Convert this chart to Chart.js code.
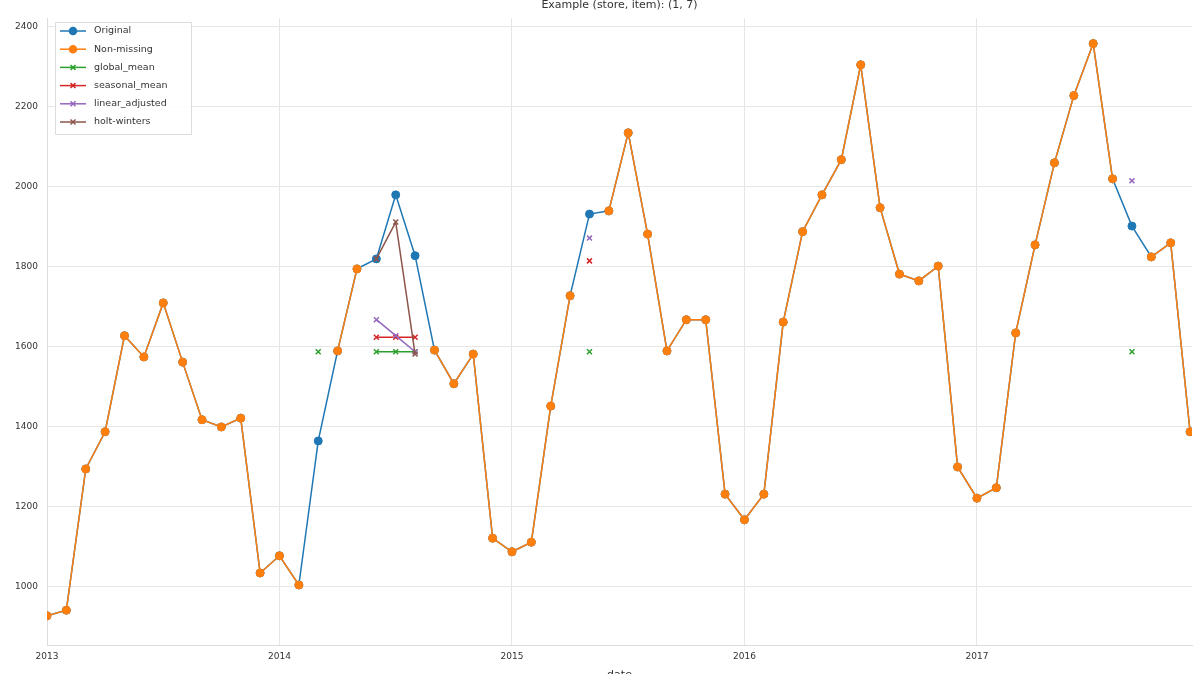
<!DOCTYPE html>
<html>
<head>
<meta charset="utf-8">
<script src="https://cdn.jsdelivr.net/npm/chart.js@4"></script>
<style>
  html, body { margin: 0; padding: 0; background: #fff; }
  #wrap { width: 1200px; height: 674px; position: relative; }
</style>
</head>
<body>
<div id="wrap"><canvas id="chart"></canvas></div>
<script>
// monthly index 0 = 2013-01 ... 59 = 2017-12
var yearTicks = [0, 12, 24, 36, 48];
var yearLabels = ['2013', '2014', '2015', '2016', '2017'];
var yTicks = [1000, 1200, 1400, 1600, 1800, 2000, 2200, 2400];

var original = [
  928, 942, 1295, 1388, 1628, 1575, 1710, 1562, 1418, 1400, 1422, 1035,
  1078, 1005, 1365, 1590, 1795, 1820, 1980, 1828, 1592, 1508, 1582, 1122,
  1088, 1112, 1452, 1728, 1932, 1940, 2135, 1882, 1590, 1668, 1668, 1232,
  1168, 1232, 1662, 1888, 1980, 2068, 2305, 1948, 1782, 1765, 1802, 1300,
  1222, 1248, 1635, 1855, 2060, 2228, 2358, 2020, 1902, 1825, 1860, 1388
];
var nonMissing = [
  928, 942, 1295, 1388, 1628, 1575, 1710, 1562, 1418, 1400, 1422, 1035,
  1078, 1005, null, 1590, 1795, null, null, null, 1592, 1508, 1582, 1122,
  1088, 1112, 1452, 1728, null, 1940, 2135, 1882, 1590, 1668, 1668, 1232,
  1168, 1232, 1662, 1888, 1980, 2068, 2305, 1948, 1782, 1765, 1802, 1300,
  1222, 1248, 1635, 1855, 2060, 2228, 2358, 2020, null, 1825, 1860, 1388
];
// imputed values, only at missing months
var globalMean =     { 14: 1588, 17: 1588, 18: 1588, 19: 1588, 28: 1588, 56: 1588 };
var seasonalMean =   { 17: 1624, 18: 1624, 19: 1624, 28: 1815 };
var linearAdjusted = { 17: 1668, 18: 1628, 19: 1588, 28: 1872, 56: 2015 };
var holtWinters =    { 17: 1820, 18: 1912, 19: 1582 };

function toPoints(arr) {
  return arr.map(function(v, i) { return { x: i, y: v }; });
}
function sparsePoints(obj) {
  var pts = [];
  for (var i = 0; i < original.length; i++) {
    pts.push({ x: i, y: obj[i] !== undefined ? obj[i] : null });
  }
  return pts;
}

var series = [
  { label: 'Original', data: toPoints(original), color: '#1f77b4', marker: 'circle', order: 6 },
  { label: 'Non-missing', data: toPoints(nonMissing), color: '#ff7f0e', marker: 'circle', order: 5 },
  { label: 'global_mean', data: sparsePoints(globalMean), color: '#2ca02c', marker: 'crossRot', order: 4 },
  { label: 'seasonal_mean', data: sparsePoints(seasonalMean), color: '#d62728', marker: 'crossRot', order: 3 },
  { label: 'linear_adjusted', data: sparsePoints(linearAdjusted), color: '#9467bd', marker: 'crossRot', order: 2 },
  { label: 'holt-winters', data: sparsePoints(holtWinters), color: '#8c564b', marker: 'crossRot', order: 1 }
];

var datasets = series.map(function(s) {
  return {
    label: s.label,
    data: s.data,
    order: s.order,
    borderColor: s.color,
    backgroundColor: s.color,
    borderWidth: 1.5,
    pointStyle: s.marker,
    pointRadius: s.marker === 'circle' ? 4 : 3.5,
    pointBorderWidth: s.marker === 'circle' ? 1 : 1.5,
    spanGaps: false,
    tension: 0
  };
});

// title, legend inside plot, x axis label
var decorPlugin = {
  id: 'decor',
  afterDraw: function(chart) {
    var ctx = chart.ctx;
    var area = chart.chartArea;
    ctx.save();
    ctx.fillStyle = '#333';
    ctx.font = '11px "DejaVu Sans", sans-serif';
    ctx.textAlign = 'center';
    ctx.textBaseline = 'middle';
    ctx.fillText('Example (store, item): (1, 7)', (area.left + area.right) / 2, 5);
    ctx.fillText('date', (area.left + area.right) / 2, 675);

    // legend box
    var bx = 55, by = 22, bw = 136, bh = 112;
    ctx.fillStyle = 'rgba(255,255,255,0.85)';
    ctx.strokeStyle = '#dddddd';
    ctx.lineWidth = 1;
    ctx.beginPath();
    ctx.rect(bx + 0.5, by + 0.5, bw, bh);
    ctx.fill();
    ctx.stroke();
    ctx.font = '9.5px "DejaVu Sans", sans-serif';
    ctx.textAlign = 'left';
    series.forEach(function(s, i) {
      var y = 31 + i * 18.2;
      ctx.strokeStyle = s.color;
      ctx.fillStyle = s.color;
      ctx.lineWidth = 1.5;
      ctx.beginPath();
      ctx.moveTo(60, y);
      ctx.lineTo(86, y);
      ctx.stroke();
      Chart.helpers.drawPoint(ctx, {
        pointStyle: s.marker, radius: 3.5, borderWidth: s.marker === 'circle' ? 1 : 1.5, rotation: 0
      }, 73, y);
      ctx.fillStyle = '#333';
      ctx.fillText(s.label, 94, y);
    });
    ctx.restore();
  }
};

new Chart(document.getElementById('chart').getContext('2d'), {
  type: 'line',
  data: { datasets: datasets },
  options: {
    responsive: true,
    maintainAspectRatio: false,
    animation: false,
    layout: { padding: { top: 18, right: 8, left: 0, bottom: 0 } },
    plugins: { legend: { display: false }, tooltip: { enabled: false } },
    scales: {
      x: {
        type: 'linear',
        min: 0,
        max: 59.1,
        afterBuildTicks: function(scale) {
          scale.ticks = yearTicks.map(function(v) { return { value: v }; });
        },
        afterFit: function(scale) { scale.height = 29; },
        ticks: {
          padding: 6,
          color: '#333',
          font: { size: 9, family: '"DejaVu Sans", sans-serif' },
          maxRotation: 0,
          callback: function(v) {
            var k = yearTicks.indexOf(v);
            return k >= 0 ? yearLabels[k] : '';
          }
        },
        grid: { color: '#e6e6e6', drawTicks: false },
        border: { color: '#dddddd' }
      },
      y: {
        min: 855,
        max: 2422,
        afterBuildTicks: function(scale) {
          scale.ticks = yTicks.map(function(v) { return { value: v }; });
        },
        afterFit: function(scale) { scale.width = 47; },
        ticks: {
          padding: 9,
          color: '#333',
          font: { size: 9, family: '"DejaVu Sans", sans-serif' },
          callback: function(v) { return String(v); }
        },
        grid: { color: '#e6e6e6', drawTicks: false },
        border: { color: '#dddddd' }
      }
    }
  },
  plugins: [decorPlugin]
});
</script>
</body>
</html>
